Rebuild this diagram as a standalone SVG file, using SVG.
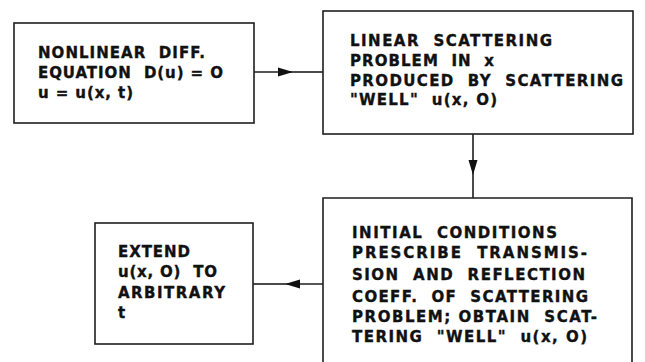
<svg xmlns="http://www.w3.org/2000/svg" width="645" height="362" viewBox="0 0 645 362">
<style>
.box{fill:none;stroke:#1e1e1e;stroke-width:1.6}
.t{font-family:"DejaVu Sans","Liberation Sans",Arial,sans-serif;font-weight:bold;font-size:15px;fill:#111;stroke:#111;stroke-width:0.35;white-space:pre}
.ln{stroke:#1e1e1e;stroke-width:1.6;fill:none}
</style>
<defs>
<marker id="ah" markerWidth="16" markerHeight="11" refX="15" refY="5" orient="auto" markerUnits="userSpaceOnUse">
<path d="M0,0.5 L15,5 L0,9.5 Z" fill="#111"/>
</marker>
</defs>
<rect width="645" height="362" fill="#fff"/>
<g id="connectors">
<line class="ln" x1="254" y1="72" x2="293" y2="72" marker-end="url(#ah)"/>
<line class="ln" x1="293" y1="72" x2="323" y2="72"/>
<line class="ln" x1="473" y1="134" x2="473" y2="175" marker-end="url(#ah)"/>
<line class="ln" x1="473" y1="175" x2="473" y2="198"/>
<line class="ln" x1="323" y1="284" x2="285" y2="284" marker-end="url(#ah)"/>
<line class="ln" x1="285" y1="284" x2="253" y2="284"/>
</g>
<g id="node1">
<rect class="box" x="14" y="23" width="240" height="100"/>
<text class="t" x="38" y="58" textLength="167" lengthAdjust="spacing">NONLINEAR  DIFF.</text>
<text class="t" x="38" y="78" textLength="185" lengthAdjust="spacing">EQUATION  D(u) = O</text>
<text class="t" x="38" y="98" textLength="95" lengthAdjust="spacing">u = u(x, t)</text>
</g>
<g id="node2">
<rect class="box" x="323" y="11" width="310" height="123"/>
<text class="t" x="350" y="46" textLength="202" lengthAdjust="spacing">LINEAR  SCATTERING</text>
<text class="t" x="350" y="66" textLength="144" lengthAdjust="spacing">PROBLEM  IN  x</text>
<text class="t" x="350" y="86" textLength="273" lengthAdjust="spacing">PRODUCED  BY  SCATTERING</text>
<text class="t" x="350" y="105" textLength="147" lengthAdjust="spacing">"WELL"  u(x, O)</text>
</g>
<g id="node3">
<path class="box" d="M323,370 L323,198 L632,198 L632,370"/>
<text class="t" x="352" y="238" textLength="205" lengthAdjust="spacing">INITIAL  CONDITIONS</text>
<text class="t" x="352" y="258" textLength="235" lengthAdjust="spacing">PRESCRIBE  TRANSMIS-</text>
<text class="t" x="352" y="280" textLength="233" lengthAdjust="spacing">SION  AND  REFLECTION</text>
<text class="t" x="352" y="302" textLength="236" lengthAdjust="spacing">COEFF.  OF  SCATTERING</text>
<text class="t" x="352" y="322" textLength="245" lengthAdjust="spacing">PROBLEM; OBTAIN  SCAT-</text>
<text class="t" x="352" y="342" textLength="235" lengthAdjust="spacing">TERING  "WELL"  u(x, O)</text>
</g>
<g id="node4">
<rect class="box" x="95" y="223" width="158" height="121"/>
<text class="t" x="118" y="257" textLength="72" lengthAdjust="spacing">EXTEND</text>
<text class="t" x="118" y="277" textLength="99" lengthAdjust="spacing">u(x, O)  TO</text>
<text class="t" x="118" y="298" textLength="107" lengthAdjust="spacing">ARBITRARY</text>
<text class="t" x="118" y="318">t</text>
</g>
</svg>
